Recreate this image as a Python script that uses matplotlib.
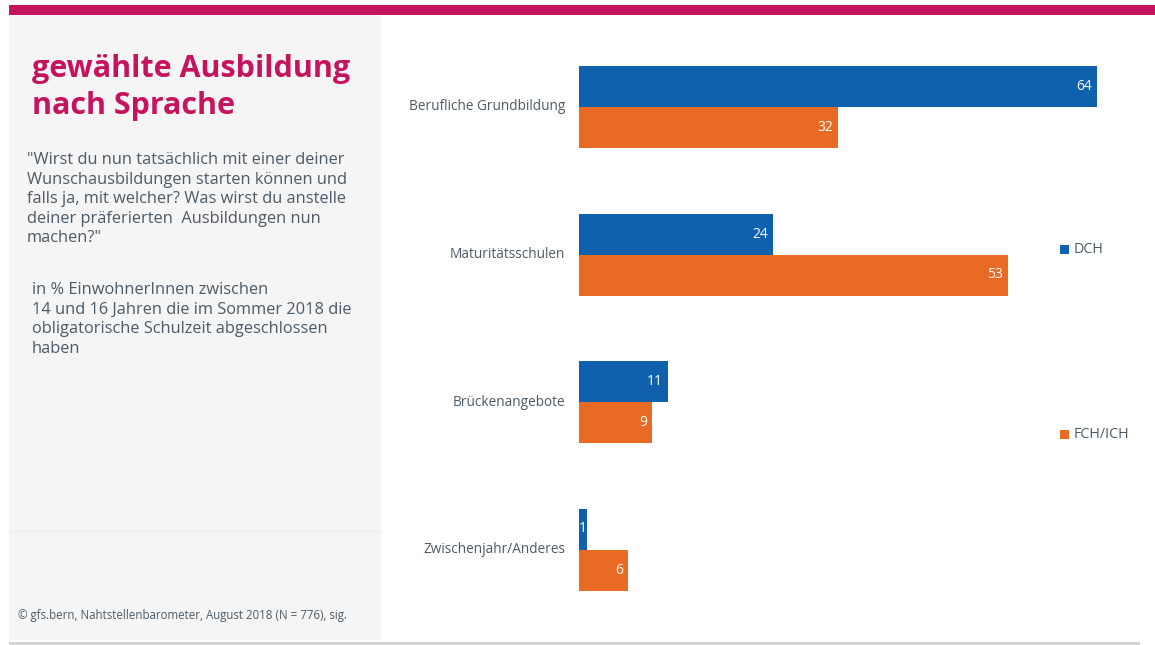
import matplotlib
matplotlib.use('Agg')
import matplotlib.pyplot as plt
import matplotlib.patches as mpatches
import numpy as np

plt.rcParams['font.family'] = ['Open Sans', 'DejaVu Sans']

# Daten
kategorien = ['Berufliche Grundbildung', 'Maturitätsschulen', 'Brückenangebote', 'Zwischenjahr/Anderes']
dch = [64, 24, 11, 1]
fch_ich = [32, 53, 9, 6]
serien = ['DCH', 'FCH/ICH']

BLAU = '#0f61ad'
ORANGE = '#e96a24'
MAGENTA = '#c5135d'
GRAU_TEXT = '#4b5a66'

W, H = 1155, 645
fig = plt.figure(figsize=(W / 100, H / 100), dpi=100)
fig.patch.set_facecolor('white')


def px(x, y):
    """Pixelkoordinaten (oben links) in Figure-Koordinaten"""
    return x / W, 1 - y / H


# Hintergrund-Panel links und Balken oben
fig.patches.append(mpatches.Rectangle(px(9, 640), 372 / W, 625 / H, transform=fig.transFigure,
                                      facecolor='#f5f5f5', edgecolor='none', zorder=0))
fig.patches.append(mpatches.Rectangle(px(9, 15), 1146 / W, 10 / H, transform=fig.transFigure,
                                      facecolor=MAGENTA, edgecolor='none', zorder=1))
fig.patches.append(mpatches.Rectangle(px(9, 645), 1131 / W, 3 / H, transform=fig.transFigure,
                                      facecolor='#d4d4d4', edgecolor='none', zorder=1))
fig.lines.append(plt.Line2D([9 / W, 380 / W], [1 - 531 / H] * 2, transform=fig.transFigure,
                            color='#ececec', lw=0.8))

# Titel und Beschreibung
fig.text(*px(32, 54), 'gewählte Ausbildung\nnach Sprache', color=MAGENTA, fontsize=22,
         fontweight='bold', va='top', linespacing=1.3)
fig.text(*px(27, 152), '"Wirst du nun tatsächlich mit einer deiner\nWunschausbildungen starten können und\n'
         'falls ja, mit welcher? Was wirst du anstelle\ndeiner präferierten  Ausbildungen nun\nmachen?"',
         color=GRAU_TEXT, fontsize=11.8, va='top', linespacing=1.3)
fig.text(*px(32, 282), 'in % EinwohnerInnen zwischen\n14 und 16 Jahren die im Sommer 2018 die\n'
         'obligatorische Schulzeit abgeschlossen\nhaben',
         color=GRAU_TEXT, fontsize=11.8, va='top', linespacing=1.3)
fig.text(*px(18, 615), '© gfs.bern, Nahtstellenbarometer, August 2018 (N = 776), sig.',
         color=GRAU_TEXT, fontsize=8.3, va='center')

# Balkendiagramm
skala = (1097 - 579) / 64.0
xmax = 70
ax = fig.add_axes([579 / W, 1 - 623.25 / H, xmax * skala / W, 590 / H])
ax.set_xlim(0, xmax)
ax.set_ylim(len(kategorien) - 0.5, -0.5)
ax.axis('off')

y = np.arange(len(kategorien))
h = 41 / 147.5
b1 = ax.barh(y - h / 2, dch, height=h, color=BLAU)
b2 = ax.barh(y + h / 2, fch_ich, height=h, color=ORANGE)

for bars, werte in [(b1, dch), (b2, fch_ich)]:
    for bar, v in zip(bars, werte):
        yc = bar.get_y() + bar.get_height() / 2
        if v < 3:
            ax.text(v / 2, yc, str(v), color='white', fontsize=10, ha='center', va='center')
        else:
            ax.text(v - 0.6, yc, str(v), color='white', fontsize=10, ha='right', va='center')

for yi, name in zip(y, kategorien):
    ax.text(-1.7, yi, name, color=GRAU_TEXT, fontsize=9.8, ha='right', va='center')

# Legende
for (ly, name, farbe) in [(249, serien[0], BLAU), (434, serien[1], ORANGE)]:
    fig.patches.append(mpatches.Rectangle(px(1060, ly + 5), 9 / W, 9 / H, transform=fig.transFigure,
                                          facecolor=farbe, edgecolor='none'))
    fig.text(*px(1074, ly), name, color=GRAU_TEXT, fontsize=10.3, va='center')

fig.savefig('out.png', dpi=100)
